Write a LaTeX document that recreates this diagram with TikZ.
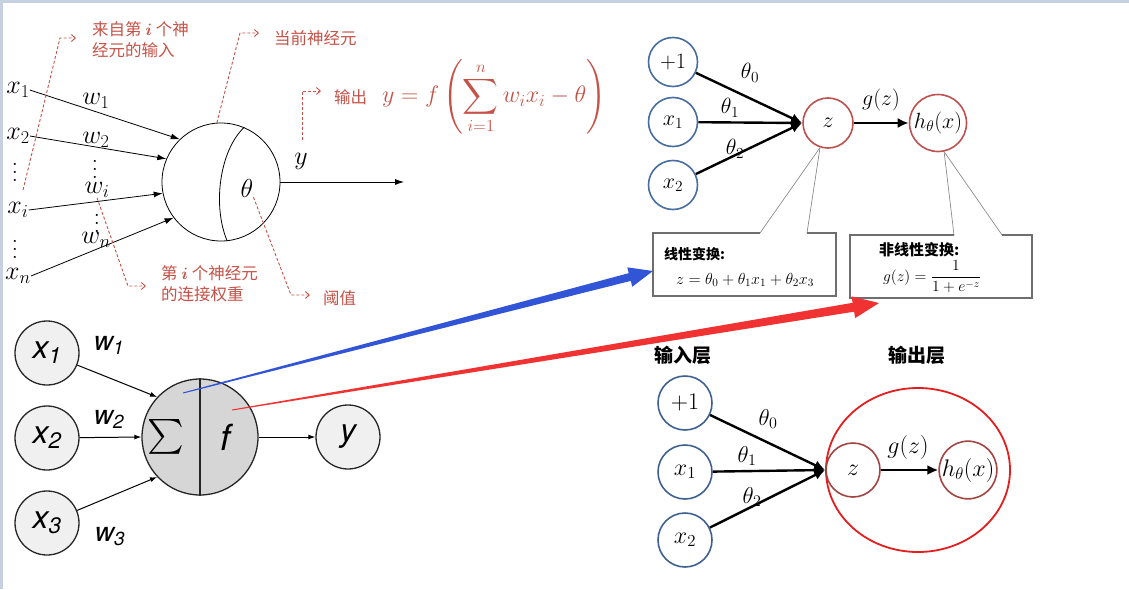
\RequirePackage{fix-cm}
\documentclass[tikz,border=0pt]{standalone}
\usepackage{amsmath}
\usepackage{graphicx}
\usepackage{fontspec}
\newfontfamily\cjk{Noto Sans CJK SC}
\newfontfamily\hv{TeX Gyre Heros}
\usetikzlibrary{arrows.meta,calc,shapes.geometric}
\newcommand{\setfs}[1]{\fontsize{#1}{#1}\selectfont}
\newcommand{\bigvd}{\scalebox{2}{$\vdots$}}
\definecolor{framec}{RGB}{198,208,224}
\definecolor{annc}{RGB}{196,82,72}
\definecolor{bluec}{RGB}{70,108,160}
\definecolor{redc}{RGB}{190,80,78}
\definecolor{bluea}{RGB}{50,85,215}
\definecolor{reda}{RGB}{240,50,50}
\definecolor{boxc}{RGB}{110,110,110}
\begin{document}
\begin{tikzpicture}[x=1pt,y=-1pt,
  tl/.style={inner sep=0pt,font=\setfs{26}},
  dots/.style={inner sep=0pt,font=\setfs{10}},
  arr/.style={line width=0.8pt,-{Latex[length=9pt,width=6pt]}},
  ann/.style={draw=annc,densely dashed,line width=0.9pt,-{Straight Barb[length=4pt,width=7pt]}},
  anntext/.style={inner sep=0pt,text=annc,font=\cjk\fontsize{16.5}{21}\selectfont,align=left},
  bnode/.style={circle,draw=bluec,line width=1.6pt,minimum size=49pt,inner sep=0pt,font=\setfs{22}},
  rnode/.style={circle,draw=redc,line width=1.6pt,minimum size=50pt,inner sep=0pt,font=\setfs{22}},
  tarr/.style={line width=2.4pt,-{Latex[length=11pt,width=10pt]}},
  lab/.style={inner sep=0pt,font=\setfs{22}},
  callout/.style={draw=boxc,line width=1.6pt},
  pointer/.style={draw=boxc!80,line width=0.7pt},
  gnode/.style={circle,draw=black!85,line width=1.3pt,fill=gray!12,minimum size=64pt,inner sep=0pt,font=\hv\itshape\setfs{32}},
  wlab/.style={inner sep=0pt,font=\hv\itshape\setfs{27}},
  barr/.style={line width=1pt,-{Latex[length=7pt,width=5pt]}},
  brnode/.style={circle,draw=bluec!90!black,line width=1.6pt,minimum size=54pt,inner sep=0pt,font=\setfs{24}},
  rrnode/.style={circle,draw=redc!85!black,line width=1.6pt,minimum size=54pt,inner sep=0pt,font=\setfs{24}},
  cjkb/.style={inner sep=0pt,font=\cjk\bfseries\setfs{19}}
]
\useasboundingbox (0,0) rectangle (1129,589);
\fill[framec] (0,0) rectangle (1129,3);
\fill[framec] (0,0) rectangle (3,589);

% ---------- top-left neuron ----------
\node[tl] (x1) at (18,90) {$x_1$};
\node[tl] (x2) at (18,136) {$x_2$};
\node[dots] (d1) at (15,166) {\bigvd};
\node[tl] (xi) at (18,210) {$x_i$};
\node[dots] (d2) at (15,243) {\bigvd};
\node[tl] (xn) at (18,276) {$x_n$};
\node[tl] (w1) at (96,101) {$w_1$};
\node[tl] (w2) at (96,140) {$w_2$};
\node[dots] (d3) at (95,163) {\bigvd};
\node[tl] (wi) at (97,190) {$w_i$};
\node[dots] (d4) at (97,217) {\bigvd};
\node[tl] (wn) at (96,240) {$w_n$};
\node[circle,draw,line width=0.8pt,minimum size=118pt,inner sep=0pt] (n) at (221,182) {};
\draw[line width=0.8pt] (n.67) .. controls (220,150) and (212,205) .. (n.-84);
\node[tl] (th) at (247,188) {$\theta$};
\draw[arr] (x1.east) -- (n.134);
\draw[arr] (x2.east) -- (n.157);
\draw[arr] (xi.east) -- (n.-169);
\draw[arr] (xn.east) -- (n.-143);
\coordinate (yout) at (404,182);
\draw[arr] (n.east) -- (yout);
\node[tl] (ylab) at (301,161) {$y$};

% annotations
\node[anntext,anchor=north west] (t1) at (92,21) {来自第 $\boldsymbol{i}$ 个神\\经元的输入};
\node[anntext,anchor=west] (t2) at (274,38) {当前神经元};
\node[anntext,anchor=west] (t3) at (334,97) {输出};
\node[inner sep=0pt,text=annc,anchor=west,font=\setfs{24}] (fm) at (382,97) {$\displaystyle y=f\left(\sum_{i=1}^{n}w_ix_i-\theta\right)$};
\node[anntext,anchor=north west] (t4) at (161,265) {第 $\boldsymbol{i}$ 个神经元\\的连接权重};
\node[anntext,anchor=west] (t5) at (323,298) {阈值};
\coordinate (a1s) at (23,190);
\coordinate (a1e) at (76,38);
\draw[ann] (a1s) -- (60,38) -- (a1e);
\coordinate (a2e) at (259,33);
\draw[ann] (n.94) -- (240,33) -- (a2e);
\coordinate (a3s) at (302,140);
\coordinate (a3e) at (321,91);
\draw[ann] (a3s) -- (302,91) -- (a3e);
\coordinate (a4e) at (146,286);
\draw[ann] (wi.south) -- (128,286) -- (a4e);
\coordinate (a5e) at (310,295);
\draw[ann] (th.south east) -- (291,295) -- (a5e);

% ---------- top-right ----------
\node[bnode] (p1) at (673,62) {$+1$};
\node[bnode] (q1) at (673,122) {$x_1$};
\node[bnode] (q2) at (673,185) {$x_2$};
\node[rnode] (z) at (828,123) {$z$};
\node[rnode,minimum size=57pt] (h) at (938,123) {$h_\theta(x)$};
\draw[tarr] (p1) -- (z.west);
\draw[tarr] (q1) -- (z.west);
\draw[tarr] (q2) -- (z.west);
\draw[tarr] (z) -- (h);
\node[lab] (t0) at (750,73) {$\theta_0$};
\node[lab] (t1b) at (730,108) {$\theta_1$};
\node[lab] (t2b) at (735,149) {$\theta_2$};
\node[lab] (gz) at (881,100) {$g(z)$};
\draw[pointer] (z.-108) -- (760,233);
\draw[pointer] (z.-108) -- (807,233);
\draw[callout] (760,233) -- (653,233) -- (653,296) -- (836,296) -- (836,233) -- (807,233);
\draw[pointer] (h.-78) -- (954,235);
\draw[pointer] (h.-78) -- (1002,235);
\draw[callout] (954,235) -- (850,235) -- (850,298) -- (1032,298) -- (1032,235) -- (1002,235);
\node[inner sep=0pt,anchor=west,font=\cjk\bfseries\setfs{14}] (c1) at (664,254) {线性变换:};
\node[inner sep=0pt,font=\setfs{16}] (f1) at (745,280) {$z=\theta_0+\theta_1x_1+\theta_2x_3$};
\node[inner sep=0pt,anchor=west,font=\cjk\bfseries\setfs{15}] (c2) at (879,250) {非线性变换:};
\node[inner sep=0pt,font=\setfs{15.5}] (f2) at (932,277) {$g(z)=\dfrac{1}{1+e^{-z}}$};

% ---------- bottom-left ----------
\node[gnode] (bx1) at (47,353) {x\textsubscript{1}};
\node[gnode] (bx2) at (47,438) {x\textsubscript{2}};
\node[gnode] (bx3) at (47,523) {x\textsubscript{3}};
\node[circle,draw=black!85,line width=1.3pt,fill=gray!32,minimum size=116pt,inner sep=0pt] (sum) at (200,437) {};
\draw[line width=1.1pt,black!85] (sum.north) -- (sum.south);
\node[inner sep=0pt,font=\setfs{24}] (sg) at (166,437) {\scalebox{1.4}{$\textstyle\sum$}};
\node[inner sep=0pt,font=\hv\itshape\setfs{36}] (ff) at (226,437) {f};
\node[gnode] (by) at (348,437) {y};
\draw[barr] (bx1) -- (sum.137);
\draw[barr] (bx2) -- (sum.west);
\draw[barr] (bx3) -- (sum.-137);
\draw[barr] (sum.east) -- (by);
\node[wlab] (bw1) at (109,345) {w\textsubscript{1}};
\node[wlab] (bw2) at (109,419) {w\textsubscript{2}};
\node[wlab] (bw3) at (110,537) {w\textsubscript{3}};

% ---------- bottom-right ----------
\node[cjkb] (lin) at (683,355) {输入层};
\node[cjkb] (lout) at (917,355) {输出层};
\node[brnode] (r1) at (685,403) {$+1$};
\node[brnode] (r2) at (685,472) {$x_1$};
\node[brnode] (r3) at (685,540) {$x_2$};
\node[ellipse,draw={rgb,255:red,228;green,30;blue,30},line width=1.8pt,minimum width=184pt,minimum height=164pt,inner sep=0pt] (outl) at (918,470) {};
\node[rrnode] (z2) at (853,470) {$z$};
\node[rrnode,minimum size=56pt] (h2) at (968,470) {$h_\theta(x)$};
\draw[tarr] (r1) -- (z2.west);
\draw[tarr] (r2) -- (z2.west);
\draw[tarr] (r3) -- (z2.west);
\draw[tarr] (z2) -- (h2);
\node[lab,font=\setfs{23}] (s0) at (768,419) {$\theta_0$};
\node[lab,font=\setfs{23}] (s1) at (747,456) {$\theta_1$};
\node[lab,font=\setfs{23}] (s2) at (752,497) {$\theta_2$};
\node[lab,font=\setfs{24}] (g2) at (908,447) {$g(z)$};

% ---------- tapered arrows ----------
\coordinate (bs) at (183,393);
\coordinate (be) at (653,271);
\coordinate (bm) at ($(be)!24pt!(bs)$);
\fill[bluea] ($(bs)!0.5pt!90:(be)$) -- ($(bm)!4pt!90:(be)$) -- ($(bm)!10pt!90:(be)$) -- (be) -- ($(bm)!10pt!-90:(be)$) -- ($(bm)!4pt!-90:(be)$) -- ($(bs)!0.5pt!-90:(be)$) -- cycle;
\coordinate (rs) at (232,410);
\coordinate (re) at (879,303);
\coordinate (rm) at ($(re)!26pt!(rs)$);
\fill[reda] ($(rs)!0.5pt!90:(re)$) -- ($(rm)!4.5pt!90:(re)$) -- ($(rm)!11pt!90:(re)$) -- (re) -- ($(rm)!11pt!-90:(re)$) -- ($(rm)!4.5pt!-90:(re)$) -- ($(rs)!0.5pt!-90:(re)$) -- cycle;
\end{tikzpicture}
\end{document}
